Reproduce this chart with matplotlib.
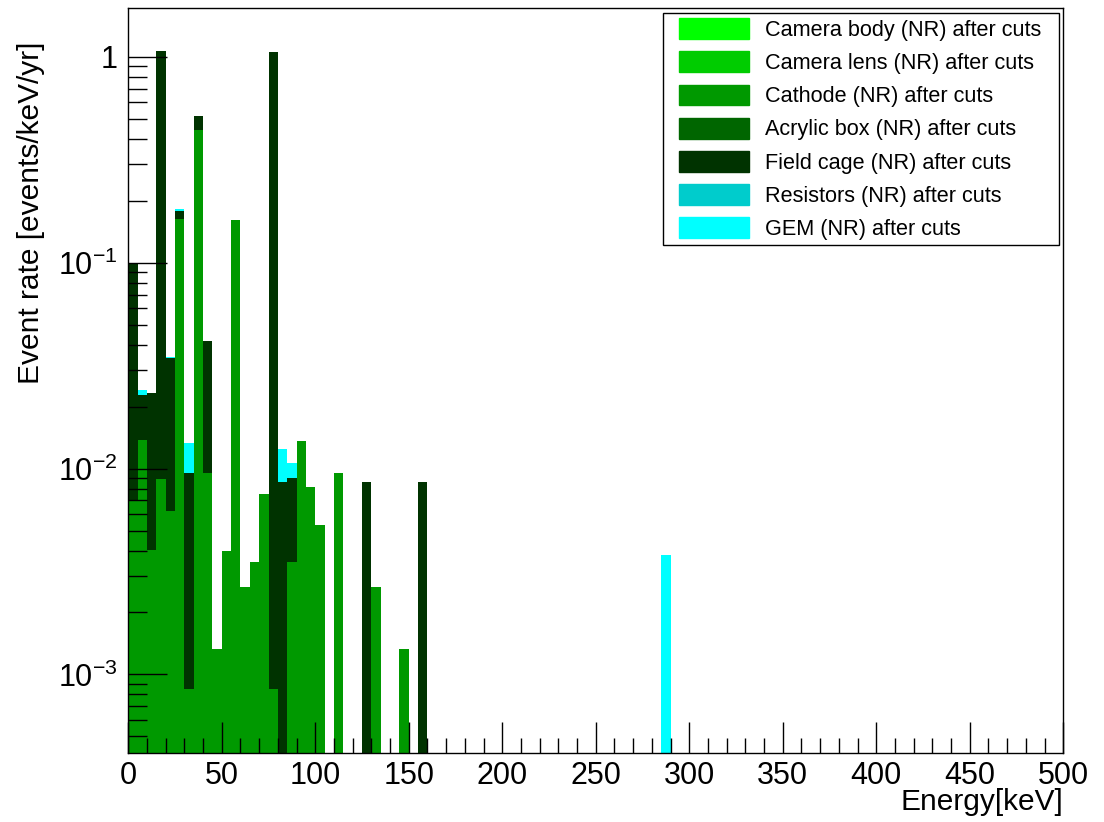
import numpy as np
import matplotlib
matplotlib.use("Agg")
import matplotlib.pyplot as plt
import matplotlib.patches as mpatches
from matplotlib.ticker import MultipleLocator, LogLocator, FuncFormatter

plt.rcParams['font.family'] = ['Liberation Sans', 'DejaVu Sans']
plt.rcParams['mathtext.fontset'] = 'custom'
plt.rcParams['mathtext.rm'] = 'Liberation Sans'
plt.rcParams['mathtext.it'] = 'Liberation Sans:italic'

# 5 keV bins from 0 to 500 keV
energy_edges = np.arange(0, 505, 5)

# bin low edges [keV] and event rates [events/keV/yr]
camera_body_bins = []
camera_body_rate = []

camera_lens_bins = []
camera_lens_rate = []

cathode_bins = [0, 5, 10, 15, 20, 25, 30, 35, 40, 45, 50, 55, 60, 65, 70, 75,
                85, 90, 95, 100, 110, 130, 145]
cathode_rate = [0.00705, 0.0138, 0.00403, 0.00889, 0.00623, 0.163, 0.00085, 0.441,
                0.00957, 0.00133, 0.0040, 0.161, 0.00266, 0.0035, 0.0075, 0.00085,
                0.0035, 0.0136, 0.00818, 0.00533, 0.00957, 0.00266, 0.00133]

acrylic_box_bins = []
acrylic_box_rate = []

field_cage_bins = [0, 5, 10, 15, 20, 25, 30, 35, 40, 75, 80, 85, 125, 155]
field_cage_rate = [0.092, 0.0090, 0.0192, 1.06, 0.0282, 0.015, 0.0087, 0.073,
                   0.032, 1.05, 0.00865, 0.0055, 0.00865, 0.00865]

resistors_bins = []
resistors_rate = []

gem_bins = [5, 20, 25, 30, 80, 85, 285]
gem_rate = [0.0013, 0.0002, 0.0036, 0.0038, 0.0038, 0.0017, 0.0038]

components = [
    ("Camera body (NR) after cuts", camera_body_bins, camera_body_rate, "#00ff00"),
    ("Camera lens (NR) after cuts", camera_lens_bins, camera_lens_rate, "#00cc00"),
    ("Cathode (NR) after cuts", cathode_bins, cathode_rate, "#009900"),
    ("Acrylic box (NR) after cuts", acrylic_box_bins, acrylic_box_rate, "#006600"),
    ("Field cage (NR) after cuts", field_cage_bins, field_cage_rate, "#003300"),
    ("Resistors (NR) after cuts", resistors_bins, resistors_rate, "#00cccc"),
    ("GEM (NR) after cuts", gem_bins, gem_rate, "#00ffff"),
]


def fill_hist(bins, rates):
    """Turn sparse (bin, rate) lists into a full histogram array."""
    h = np.zeros(len(energy_edges) - 1)
    for b, r in zip(bins, rates):
        h[int(b // 5)] = r
    return h


def log_label(v, pos):
    exp = int(round(np.log10(v)))
    if exp == 0:
        return "1"
    return r"$10^{%d}$" % exp


fig = plt.figure(figsize=(11.04, 8.22), dpi=100)
ax = fig.add_axes([0.1162, 0.0843, 0.8469, 0.9063])
ax.set_yscale('log', nonpositive='clip')

# stacked histogram, first component at the bottom
cum = np.zeros(len(energy_edges) - 1)
handles = []
for label, bins, rates, color in components:
    h = fill_hist(bins, rates)
    mask = h > 0
    if mask.any():
        ax.bar(energy_edges[:-1][mask], h[mask], width=5, bottom=cum[mask],
               align='edge', color=color, linewidth=0)
    cum = cum + h
    handles.append(mpatches.Patch(facecolor=color, edgecolor=color, label=label))

ax.set_xlim(0, 500)
ax.set_ylim(4.17e-4, 1.73)

ax.xaxis.set_major_locator(MultipleLocator(50))
ax.xaxis.set_minor_locator(MultipleLocator(10))
ax.yaxis.set_major_locator(LogLocator(base=10))
ax.yaxis.set_minor_locator(LogLocator(base=10, subs=np.arange(2, 10)))
ax.yaxis.set_major_formatter(FuncFormatter(log_label))
ax.yaxis.set_minor_formatter(FuncFormatter(lambda v, p: ""))

ax.tick_params(axis='both', which='both', direction='in', top=False, right=False,
               width=1, labelsize=22)
ax.tick_params(axis='x', which='major', length=22, pad=6)
ax.tick_params(axis='x', which='minor', length=11)
ax.tick_params(axis='y', which='major', length=28, pad=8)
ax.tick_params(axis='y', which='minor', length=14)
for s in ax.spines.values():
    s.set_linewidth(1)

ax.set_xlabel("Energy[keV]", fontsize=21.5, loc='right')
ax.set_ylabel("Event rate [events/keV/yr]", fontsize=21.5, loc='top')
ax.xaxis.set_label_coords(1.0, -0.048)
ax.yaxis.set_label_coords(-0.089, 0.954)

# legend box drawn by hand so the side padding can differ from the top one
frame = mpatches.Rectangle((0.572, 0.6813), 0.4234, 0.3113, transform=ax.transAxes,
                           facecolor='white', edgecolor='black', linewidth=1, zorder=4)
ax.add_patch(frame)
leg = ax.legend(handles=handles, loc='upper left', bbox_to_anchor=(0.5892, 0.9859),
                borderaxespad=0, borderpad=0, fontsize=15.6, frameon=False,
                handlelength=3.2, handleheight=1.1, labelspacing=0.48,
                handletextpad=0.74)
leg.set_zorder(5)

fig.savefig("out.png", dpi=100)
